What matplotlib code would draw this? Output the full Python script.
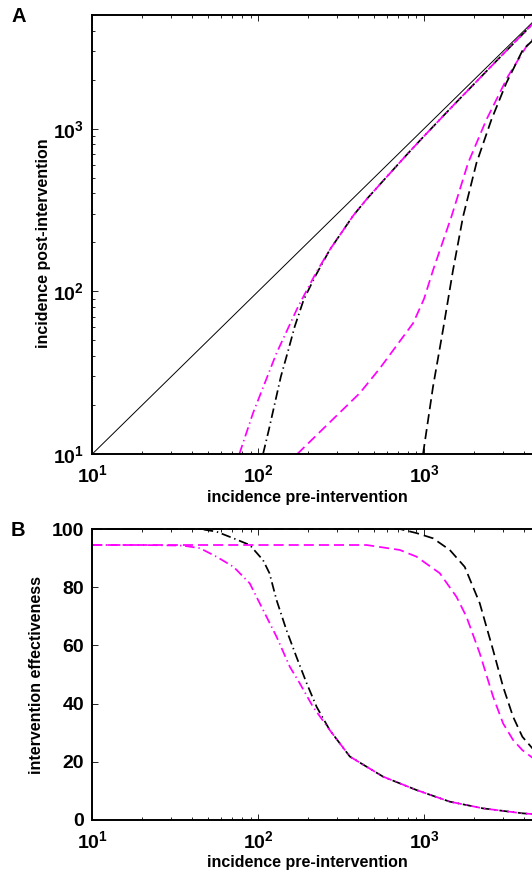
import numpy as np
import matplotlib
matplotlib.use('Agg')
import matplotlib.pyplot as plt
from matplotlib.ticker import FixedLocator, FixedFormatter, LogLocator, NullFormatter

plt.rcParams['font.family'] = ['Liberation Sans', 'DejaVu Sans']
plt.rcParams['font.weight'] = 'bold'
plt.rcParams['mathtext.fontset'] = 'custom'
plt.rcParams['mathtext.rm'] = 'Liberation Sans:bold'
plt.rcParams['mathtext.bf'] = 'Liberation Sans:bold'
plt.rcParams['mathtext.default'] = 'rm'

# panel A: incidence post vs pre intervention
diag_x = [10, 5000]
diag_y = [10, 5000]

a_dd_blk_x = [107, 116, 137, 152, 166, 188, 220, 270, 374, 450, 600, 800, 1000, 1500, 2000, 3000, 4500]
a_dd_blk_y = [10, 14.1, 29.9, 43.6, 60.7, 88.7, 123, 180, 292, 368, 510, 705, 900, 1390, 1880, 2880, 4390]

a_dd_mag_x = [77, 93, 129, 174, 225, 270, 374, 450, 600, 800, 1000, 1500, 2000, 3000, 4500]
a_dd_mag_y = [10, 17.8, 41.7, 80.5, 132, 180, 292, 368, 510, 705, 900, 1390, 1880, 2880, 4390]

a_dash_mag_x = [172, 410, 541, 665, 859, 1000, 1133, 1462, 1842, 2375, 3205, 4140, 4600]
a_dash_mag_y = [10, 23.7, 33.6, 44.7, 63.7, 90, 135, 288, 615, 1135, 2098, 3206, 3630]

a_dash_blk_x = [986, 1133, 1301, 1495, 1718, 2070, 2546, 3133, 3945, 4600]
a_dash_blk_y = [10, 26, 58, 135, 288, 615, 1135, 1910, 3062, 3550]

# panel B: intervention effectiveness (%)
b_dd_mag_x = [10, 20, 35, 44.6, 56, 71, 89, 107, 129, 155, 178, 214, 270, 357, 566, 900, 1429, 2265, 3915, 4600]
b_dd_mag_y = [94.5, 94.5, 94.3, 93.4, 90.5, 87, 81.3, 72.2, 63, 52.7, 47, 38.9, 30.9, 21.8, 14.9, 10.3, 6.3, 4, 2.3, 2.0]

b_dd_blk_x = [10, 44.6, 56, 71, 89, 107, 117, 129, 148, 170, 196, 225, 270, 357, 566, 900, 1429, 2265, 3915, 4600]
b_dd_blk_y = [100, 100, 99.1, 96.8, 94.5, 89.3, 84.8, 75.6, 65.3, 56.1, 47, 38.9, 30.9, 21.8, 14.9, 10.3, 6.3, 4, 2.3, 2.0]

b_dash_mag_x = [10, 100, 300, 450, 714, 900, 1244, 1568, 1800, 2166, 2607, 2995, 3440, 3915, 4600]
b_dash_mag_y = [94.5, 94.5, 94.5, 94.5, 92.8, 90.5, 84.8, 76.7, 69.9, 57.3, 42.4, 33.2, 27.5, 24, 21]

b_dash_blk_x = [10, 714, 900, 1133, 1429, 1758, 2166, 2607, 2995, 3440, 3915, 4600]
b_dash_blk_y = [100, 100, 98.6, 96.8, 92.8, 87, 74.5, 58.4, 45.8, 35.5, 28.6, 24]

log_ticks = [10, 100, 1000]
log_labels = [r'$10^{1}$', r'$10^{2}$', r'$10^{3}$']
eff_ticks = [0, 20, 40, 60, 80, 100]

W, H = 532, 877
MAG = (1, 0, 1)
DASH = (0, (5.8, 2.9))
DASHDOT = (0, (5.5, 2.2, 0.8, 2.2))
LW = 1.25


def style_axes(ax):
    for s in ax.spines.values():
        s.set_linewidth(1.4)
    ax.tick_params(which='both', direction='in', top=True, right=True, width=0.6)
    ax.tick_params(which='major', length=4, labelsize=14)
    ax.tick_params(axis='x', which='major', pad=7)
    ax.tick_params(axis='y', which='major', pad=6)
    ax.tick_params(which='minor', length=2.5)


def log_xaxis(ax):
    ax.set_xscale('log')
    ax.set_xlim(10, 5000)
    ax.xaxis.set_major_locator(FixedLocator(log_ticks))
    ax.xaxis.set_major_formatter(FixedFormatter(log_labels))
    ax.xaxis.set_minor_locator(LogLocator(base=10, subs=np.arange(2, 10)))
    ax.xaxis.set_minor_formatter(NullFormatter())


fig = plt.figure(figsize=(W / 100, H / 100), dpi=100)

left = 92.3 / W
width = (540 - 92.3) / W
aw = 540 - 92.3

# ---- panel A
axA = fig.add_axes([left, (H - 454) / H, width, (454 - 15) / H])
axA.plot(diag_x, diag_y, color='k', lw=0.7)
axA.plot(a_dd_blk_x, a_dd_blk_y, color='k', lw=LW, linestyle=DASHDOT)
axA.plot(a_dd_mag_x, a_dd_mag_y, color=MAG, lw=LW, linestyle=DASHDOT)
axA.plot(a_dash_mag_x, a_dash_mag_y, color=MAG, lw=LW, linestyle=DASH)
axA.plot(a_dash_blk_x, a_dash_blk_y, color='k', lw=LW, linestyle=DASH)
log_xaxis(axA)
axA.set_yscale('log')
axA.set_ylim(10, 5000)
axA.yaxis.set_major_locator(FixedLocator(log_ticks))
axA.yaxis.set_major_formatter(FixedFormatter(log_labels))
axA.yaxis.set_minor_locator(LogLocator(base=10, subs=np.arange(2, 10)))
axA.yaxis.set_minor_formatter(NullFormatter())
style_axes(axA)
axA.set_xlabel('incidence pre-intervention', fontsize=11.5, fontweight='bold')
axA.set_ylabel('incidence post-intervention', fontsize=11.5, fontweight='bold')
axA.xaxis.set_label_coords((307.5 - 92.3) / aw, -(490 - 454) / (454 - 15))
axA.yaxis.set_label_coords(-(92.3 - 51) / aw, 0.48)

# ---- panel B
axB = fig.add_axes([left, (H - 820) / H, width, (820 - 529) / H])
axB.plot(b_dd_blk_x, b_dd_blk_y, color='k', lw=LW, linestyle=DASHDOT, clip_on=False)
axB.plot(b_dd_mag_x, b_dd_mag_y, color=MAG, lw=LW, linestyle=DASHDOT)
axB.plot(b_dash_mag_x, b_dash_mag_y, color=MAG, lw=LW, linestyle=DASH)
axB.plot(b_dash_blk_x, b_dash_blk_y, color='k', lw=LW, linestyle=DASH, clip_on=False)
log_xaxis(axB)
axB.set_ylim(0, 100)
axB.set_yticks(eff_ticks)
style_axes(axB)
axB.set_xlabel('incidence pre-intervention', fontsize=11.5, fontweight='bold')
axB.set_ylabel('intervention effectiveness', fontsize=11.5, fontweight='bold')
axB.xaxis.set_label_coords((307.5 - 92.3) / aw, -(855 - 820) / (820 - 529))
axB.yaxis.set_label_coords(-(92.3 - 44) / aw, 0.5)

fig.text(19 / W, 1 - 17 / H, 'A', fontsize=14.5, fontweight='bold', ha='center', va='center')
fig.text(18 / W, 1 - 531 / H, 'B', fontsize=14.5, fontweight='bold', ha='center', va='center')

fig.savefig('out.png', dpi=100)
